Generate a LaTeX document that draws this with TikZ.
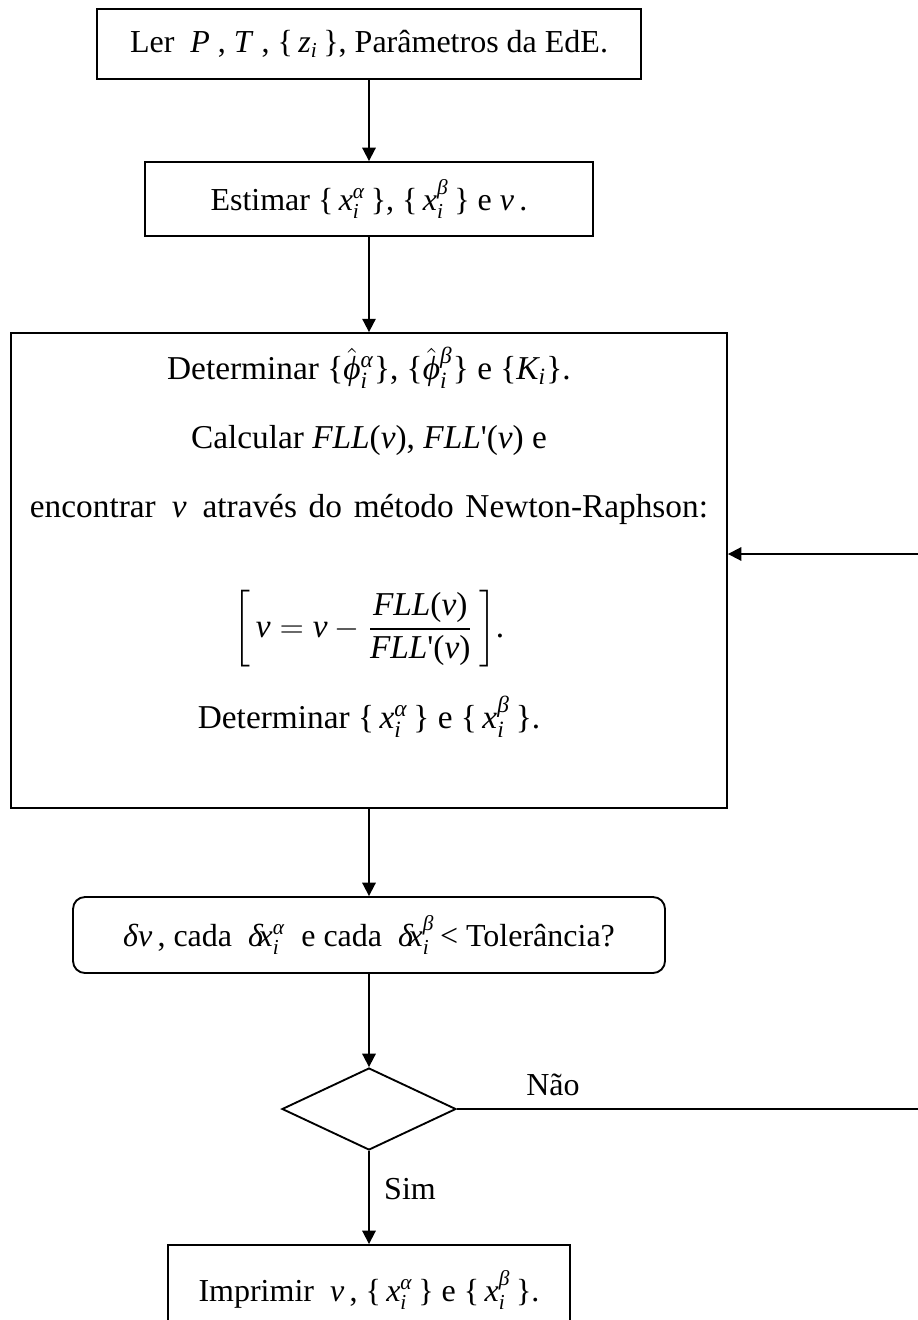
\documentclass[tikz,border=0pt]{standalone}
\usepackage{amsmath}
\usepackage{fontspec}
\setmainfont{Liberation Serif}
\usetikzlibrary{arrows.meta,shapes.geometric}

% italic variable names set in the text face
\newcommand{\mi}[1]{\textit{#1}}
\newcommand{\nuv}{\mi{ν}}
\newcommand{\xa}{\mi{x}_{\mi{i}}^{\mi{α}}}
\newcommand{\xb}{\mi{x}_{\mi{i}}^{\mi{β}}}
\newcommand{\setof}[1]{\{\,$#1$\,\}}
\newcommand{\setoft}[1]{\{$#1$\}}
\newcommand{\fll}{\mi{FLL}\textup{(}\nuv\textup{)}}
\newcommand{\fllp}{\mi{FLL}\textup{\textquotesingle(}\nuv\textup{)}}
\newcommand{\phihat}{\hat{\mi{ϕ}}}
\newcommand{\dx}{\mi{δ}\mkern-2.5mu\mi{x}}

\tikzset{
  boxstyle/.style={draw, line width=0.7pt, inner sep=0pt, align=center,
    font=\fontsize{12}{14}\selectfont},
  roundbox/.style={boxstyle, rounded corners=4.5pt},
  decision/.style={draw, line width=0.7pt, shape=diamond, inner sep=0pt,
    minimum width=65.25pt, minimum height=30.75pt},
  bigtext/.style={inner sep=0pt, font=\fontsize{12.5}{15}\selectfont},
  lbl/.style={inner sep=0pt, font=\fontsize{12}{14}\selectfont},
  flow/.style={line width=0.7pt, -{Triangle[length=5pt,width=5pt]}},
  plain/.style={line width=0.7pt}
}

\begin{document}
\begin{tikzpicture}[x=0.375pt,y=-0.375pt]
\useasboundingbox (0,0) rectangle (918,1320);
\clip (0,0) rectangle (918,1320);

% input
\node[boxstyle, minimum width=204pt, minimum height=26.25pt] (ler) at (369,44)
  {Ler\ \ \mi{P}\ ,\ \mi{T}\ ,\ \{\,$\mi{z}_{\mi{i}}$\,\}, Parâmetros da EdE.};

% initial estimate
\node[boxstyle, minimum width=168pt, minimum height=27.75pt] (est) at (369,199)
  {Estimar \setof{\xa}, \setof{\xb} e \nuv\,.};

% Newton-Raphson block
\node[boxstyle, minimum width=268.5pt, minimum height=178.1pt] (nr) at (369,570.5) {};
\node[bigtext] (t1) at (369,368)
  {Determinar \setoft{\phihat{}_{\mi{i}}^{\mi{α}}}, \setoft{\phihat{}_{\mi{i}}^{\mi{β}}} e \setoft{\mi{K}_{\mi{i}}}.};
\node[bigtext] (t2) at (369,440)
  {Calcular \fll, \fllp\ e};
\node[bigtext] (t3) at (369,509)
  {\spaceskip=4.4pt plus 1pt encontrar\hspace{6pt}\nuv\hspace{6pt}através do método Newton-Raphson:};
\node[bigtext] (t4) at (369,629)
  {$\left[\,\nuv = \nuv - \dfrac{\fll}{\fllp}\,\right]$.};
\node[bigtext] (t5) at (369,717)
  {Determinar \{\,$\xa$\,\} e \{\,$\xb$\,\}.};

% convergence test
\node[roundbox, minimum width=222pt, minimum height=28.5pt] (tol) at (369,935)
  {$\mi{δν}$\,, cada\ \ $\dx_{\mi{i}}^{\mi{α}}$\ \ e cada\ \ $\dx_{\mi{i}}^{\mi{β}}$\,< Tolerância?};

\node[decision] (dec) at (369,1109) {};

% output
\node[boxstyle, minimum width=150.75pt, minimum height=31.9pt] (out) at (369,1287.5) {};
\node[lbl] (outtxt) at (369,1290)
  {Imprimir\ \ \nuv\,, \setof{\xa} e \setof{\xb}.};

\node[lbl] (nao) at (553,1085) {Não};
\node[lbl] (sim) at (410,1189) {Sim};

\coordinate (loopa) at (921,1109);
\coordinate (loopb) at (921,554);

% connectors
\draw[flow] (ler.south) -- (est.north);
\draw[flow] (est.south) -- (nr.north);
\draw[flow] (nr.south) -- (tol.north);
\draw[flow] (tol.south) -- (dec.north);
\draw[flow] (dec.south) -- (out.north);
\draw[plain] (dec.east) -- (loopa) -- (loopb);
\draw[flow] (loopb) -- (loopb -| nr.east);
\end{tikzpicture}
\end{document}
